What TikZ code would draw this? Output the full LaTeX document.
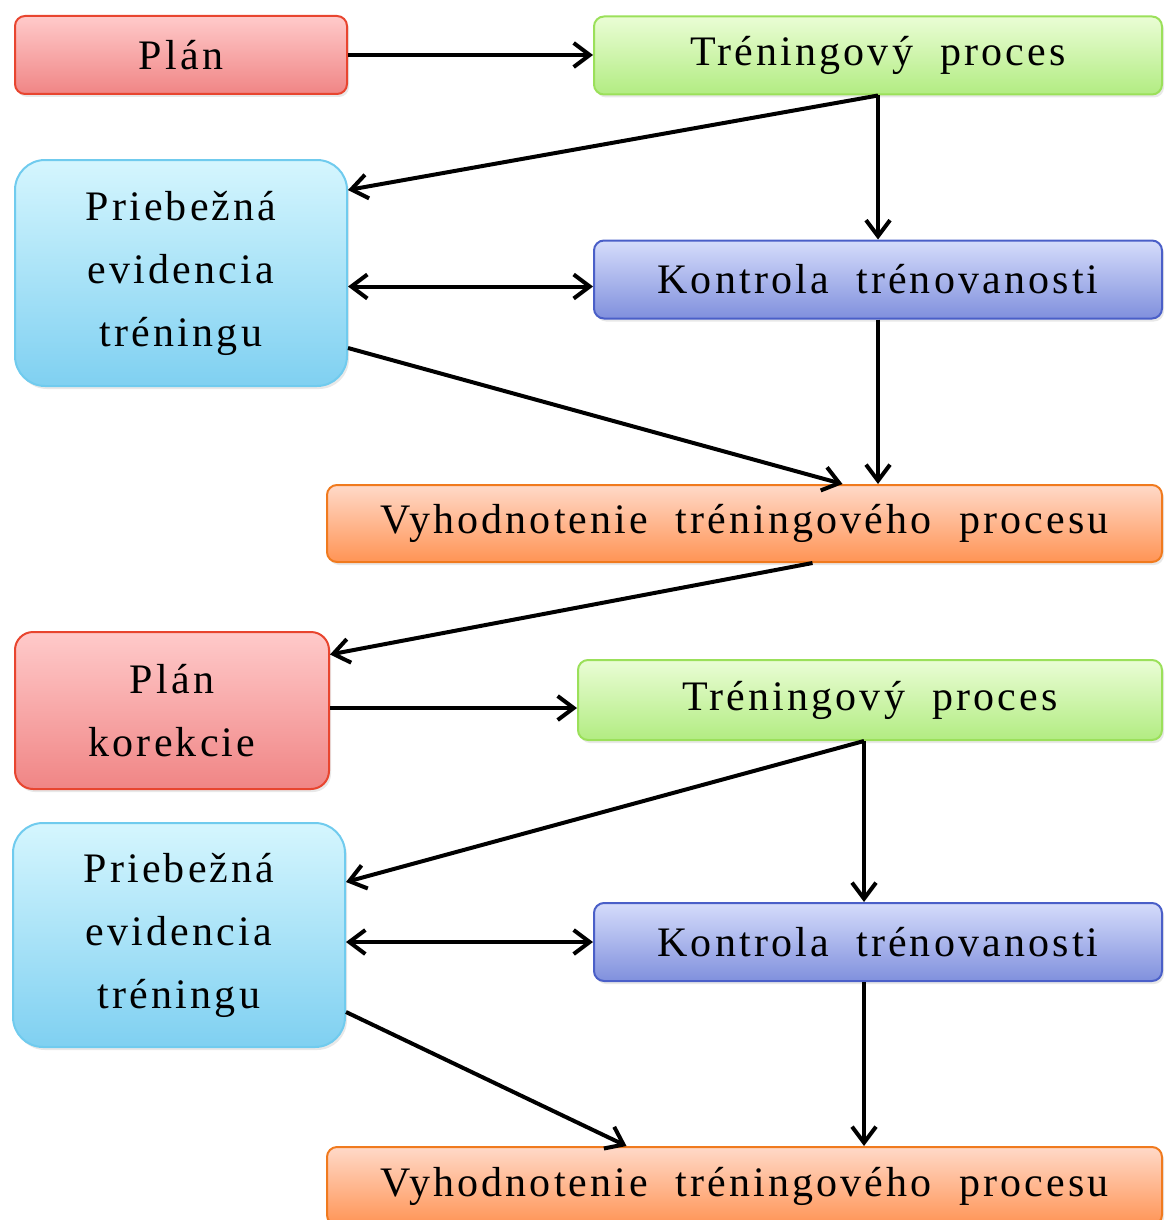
\documentclass[tikz,border=0pt]{standalone}
\usepackage{fontspec}
\setmainfont{Liberation Serif}[LetterSpace=7.5,WordSpace=2]
\usetikzlibrary{arrows.meta, shadows}
\definecolor{redline}{HTML}{E8452F}
\definecolor{redtop}{HTML}{FFCACA}
\definecolor{redbot}{HTML}{F08585}
\definecolor{greenline}{HTML}{9BE05A}
\definecolor{greentop}{HTML}{EAFDD5}
\definecolor{greenbot}{HTML}{B2EC82}
\definecolor{cyanline}{HTML}{70CBEE}
\definecolor{cyantop}{HTML}{D5F6FE}
\definecolor{cyanbot}{HTML}{7FD0F1}
\definecolor{blueline}{HTML}{4A5FC8}
\definecolor{bluetop}{HTML}{D5DCFB}
\definecolor{bluebot}{HTML}{8090DD}
\definecolor{orangeline}{HTML}{F07A1E}
\definecolor{orangetop}{HTML}{FFD9C8}
\definecolor{orangebot}{HTML}{FF9455}
\tikzset{
  every picture/.style={line width=2pt},
  box/.style={draw=#1line, top color=#1top, bottom color=#1bot, line width=1pt, rounded corners=5pt, align=center, inner sep=4pt,
    drop shadow={opacity=0.18, shadow xshift=1pt, shadow yshift=-1.5pt}},
  arrow/.style={-{Straight Barb[length=8pt, width=12pt]}},
  twoway/.style={{Straight Barb[length=8pt, width=12pt]}-{Straight Barb[length=8pt, width=12pt]}},
}

\begin{document}
\begin{tikzpicture}[x=0.5pt, y=-0.5pt, every node/.append style={font=\fontsize{21}{31.5}\selectfont},
  wide/.style={minimum width=284pt, minimum height=39pt},
  side/.style={box=cyan, minimum width=166pt, minimum height=113pt, rounded corners=15pt}]
  \useasboundingbox (0,0) rectangle (1164,1220);
  % first round
  \node[box=red, minimum width=166pt, minimum height=39pt] (plan) at (181,55) {Plán};
  \node[box=green, wide] (tren) at (878,55.5) {Tréningový proces};
  \node[side] (prieb) at (181,273) {Priebežná\\evidencia\\tréningu};
  \node[box=blue, wide] (kontr) at (878,279.5) {Kontrola trénovanosti};
  \node[box=orange, minimum width=417.5pt, minimum height=38.5pt] (vyh) at (744.5,523.5) {Vyhodnotenie tréningového procesu};
  \draw[arrow] (plan.east) -- (plan.east -| tren.west);
  \draw[arrow] (tren.south) -- (kontr.north);
  \draw[arrow] (tren.south) -- ([yshift=41.5pt]prieb.east);
  \draw[twoway] ([yshift=-3.5pt]kontr.west -| prieb.east) -- ([yshift=-3.5pt]kontr.west);
  \draw[arrow] ([yshift=-37.5pt]prieb.east) -- ([xshift=49pt]vyh.north);
  \draw[arrow] (kontr.south) -- (kontr.south |- vyh.north);
  % correction round
  \node[box=red, minimum width=157pt, minimum height=78.5pt, rounded corners=9pt] (plank) at (172,710.5) {Plán\\korekcie};
  \node[box=green, minimum width=292pt, minimum height=40pt] (tren2) at (870,700) {Tréningový proces};
  \node[side, minimum height=112pt] (prieb2) at (179,935) {Priebežná\\evidencia\\tréningu};
  \node[box=blue, wide] (kontr2) at (878,942) {Kontrola trénovanosti};
  \node[box=orange, minimum width=417.5pt, minimum height=39pt] (vyh2) at (744.5,1186) {Vyhodnotenie tréningového procesu};
  \coordinate (t2) at ([xshift=-3pt]tren2.south);
  \draw[arrow] ([xshift=34pt]vyh.south) -- ([yshift=28pt]plank.east);
  \draw[arrow] ([yshift=-4pt]tren2.west -| plank.east) -- ([yshift=-4pt]tren2.west);
  \draw[arrow] (t2) -- (t2 |- kontr2.north);
  \draw[arrow] (t2) -- ([yshift=26.5pt]prieb2.east);
  \draw[twoway] (kontr2.west -| prieb2.east) -- (kontr2.west);
  \draw[arrow] ([yshift=-38.5pt]prieb2.east) -- ([xshift=-59pt]vyh2.north);
  \draw[arrow] (t2 |- kontr2.south) -- (t2 |- vyh2.north);
\end{tikzpicture}
\end{document}
